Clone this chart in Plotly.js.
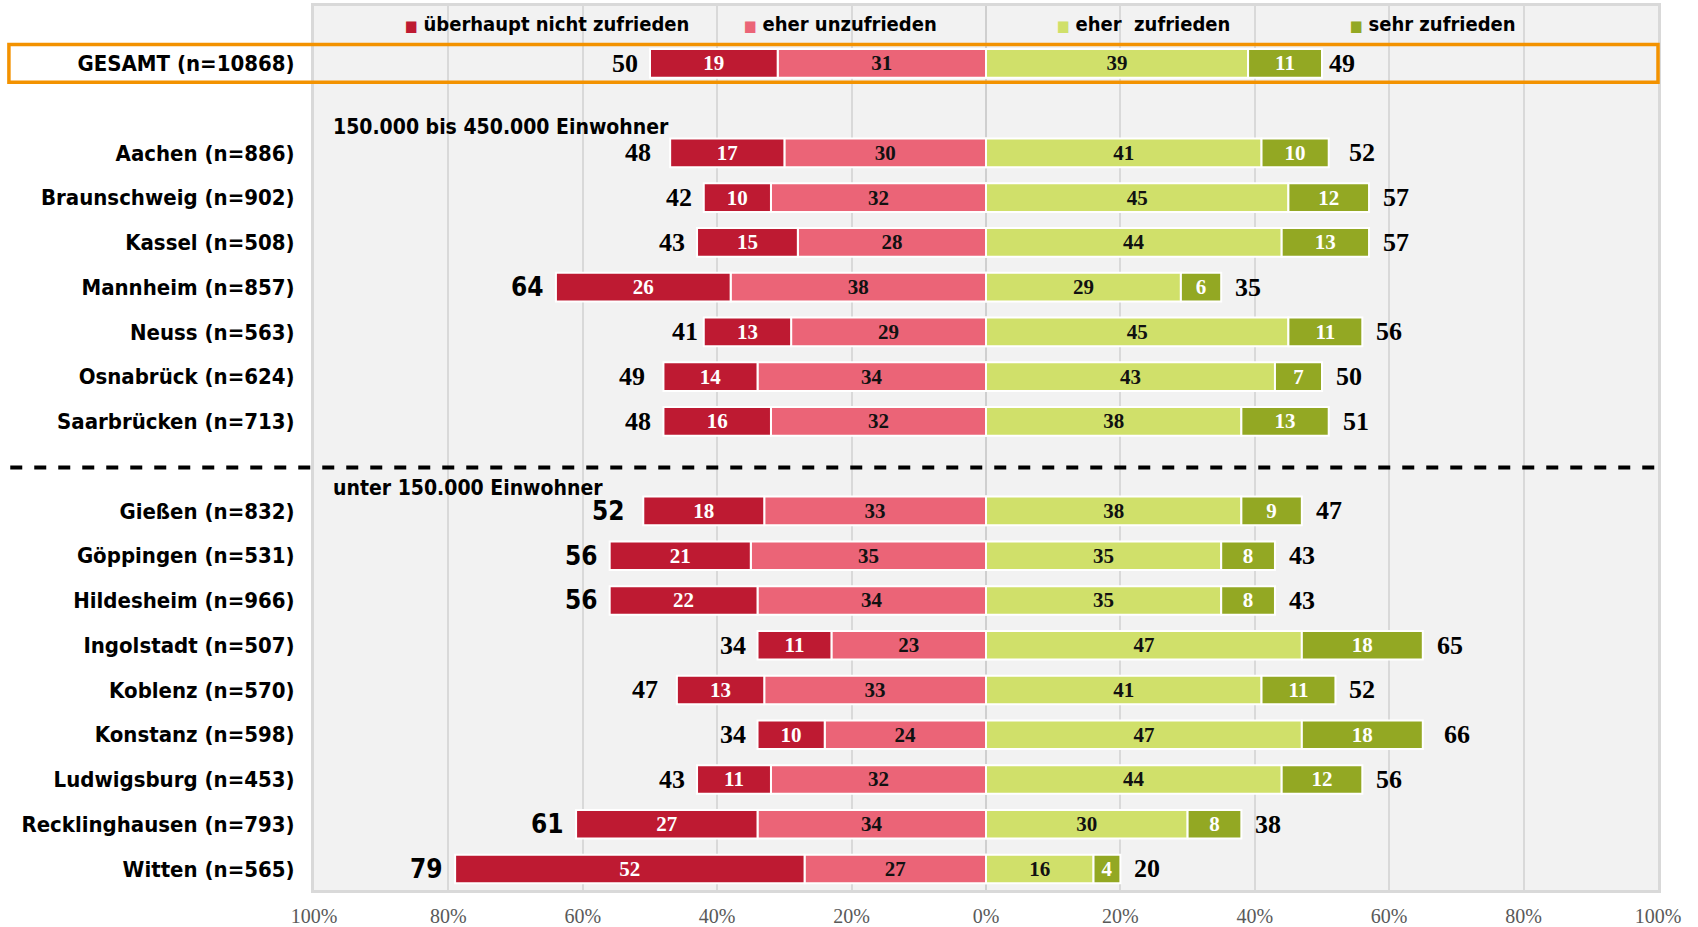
<!DOCTYPE html>
<html>
<head>
<meta charset="utf-8">
<script src="https://cdn.plot.ly/plotly-3.0.1.min.js"></script>
<style>html,body{margin:0;padding:0;background:#fff;}#chart{width:1698px;height:927px;}</style>
</head>
<body>
<div id="chart"></div>
<script>
// ---- data ----
const categories = ["GESAMT (n=10868)", "",
  "Aachen (n=886)", "Braunschweig (n=902)", "Kassel (n=508)", "Mannheim (n=857)",
  "Neuss (n=563)", "Osnabrück (n=624)", "Saarbrücken (n=713)", "",
  "Gießen (n=832)", "Göppingen (n=531)", "Hildesheim (n=966)", "Ingolstadt (n=507)",
  "Koblenz (n=570)", "Konstanz (n=598)", "Ludwigsburg (n=453)",
  "Recklinghausen (n=793)", "Witten (n=565)"];
const ueberhauptNicht = [19, null, 17, 10, 15, 26, 13, 14, 16, null, 18, 21, 22, 11, 13, 10, 11, 27, 52];
const eherUnzufrieden = [31, null, 30, 32, 28, 38, 29, 34, 32, null, 33, 35, 34, 23, 33, 24, 32, 34, 27];
const eherZufrieden   = [39, null, 41, 45, 44, 29, 45, 43, 38, null, 38, 35, 35, 47, 41, 47, 44, 30, 16];
const sehrZufrieden   = [11, null, 10, 12, 13, 6, 11, 7, 13, null, 9, 8, 8, 18, 11, 18, 12, 8, 4];
const totalNegativ    = [50, null, 48, 42, 43, 64, 41, 49, 48, null, 52, 56, 56, 34, 47, 34, 43, 61, 79];
const totalPositiv    = [49, null, 52, 57, 57, 35, 56, 50, 51, null, 47, 43, 43, 65, 52, 66, 56, 38, 20];
const seriesNames = ["überhaupt nicht zufrieden", "eher unzufrieden", "eher  zufrieden", "sehr zufrieden"];
const groupLabels = ["150.000 bis 450.000 Einwohner", "unter 150.000 Einwohner"];
const xTickVals = [-100, -80, -60, -40, -20, 0, 20, 40, 60, 80, 100];
const xTickText = ["100%", "80%", "60%", "40%", "20%", "0%", "20%", "40%", "60%", "80%", "100%"];

// ---- styles ----
const C_DARKRED = "#be1a32", C_PINK = "#eb6477", C_LIGHTGREEN = "#d0e06a", C_OLIVE = "#93a823";
const SANS = "'Liberation Sans Narrow', 'DejaVu Sans Condensed', 'Arial Narrow', sans-serif";
const SERIF = "'Liberation Serif', 'DejaVu Serif', serif";

const ypos = categories.map((c, i) => i);
const idx = ypos.filter(i => categories[i] !== "");
const pick = arr => idx.map(i => arr[i]);
const yv = idx;

function barTrace(name, vals, sign, color, txtColor) {
  return {
    type: "bar", orientation: "h", name: name,
    y: yv, x: pick(vals).map(v => sign * v),
    text: pick(vals).map(v => "<b>" + v + "</b>"),
    textposition: "inside", insidetextanchor: "middle", textangle: 0,
    constraintext: "none",
    textfont: {family: SERIF, size: 21, color: txtColor},
    marker: {color: color, line: {color: "#ffffff", width: 2}},
    hoverinfo: "name+text", showlegend: false
  };
}

const traces = [
  barTrace(seriesNames[1], eherUnzufrieden, -1, C_PINK, "#111111"),
  barTrace(seriesNames[0], ueberhauptNicht, -1, C_DARKRED, "#ffffff"),
  barTrace(seriesNames[2], eherZufrieden, 1, C_LIGHTGREEN, "#111111"),
  barTrace(seriesNames[3], sehrZufrieden, 1, C_OLIVE, "#ffffff")
];

const annotations = [];
idx.forEach(i => {
  const neg = totalNegativ[i], pos = totalPositiv[i];
  const majorityNeg = neg - pos > 1;
  annotations.push({
    x: -neg, y: i, xref: "x", yref: "y", text: "<b>" + neg + "</b>", showarrow: false,
    xanchor: "right", yanchor: "middle", xshift: -10,
    font: majorityNeg ? {family: SANS, size: 26, color: "#000"}
                      : {family: SERIF, size: 26, color: "#000"}
  });
  annotations.push({
    x: pos, y: i, xref: "x", yref: "y", text: "<b>" + pos + "</b>", showarrow: false,
    xanchor: "left", yanchor: "middle", xshift: 12,
    font: {family: SERIF, size: 26, color: "#000"}
  });
});
// group headers
annotations.push({x: -97.5, y: 1.41, xref: "x", yref: "y", text: "<b>" + groupLabels[0] + "</b>", showarrow: false,
  xanchor: "left", yanchor: "middle", font: {family: SANS, size: 21, color: "#000"}});
annotations.push({x: -97.5, y: 9.49, xref: "x", yref: "y", text: "<b>" + groupLabels[1] + "</b>", showarrow: false,
  xanchor: "left", yanchor: "middle", font: {family: SANS, size: 21, color: "#000"}});
// legend as annotations
const legendX = [-86.8, -36.3, 10.2, 53.8];
const legendColors = [C_DARKRED, C_PINK, C_LIGHTGREEN, C_OLIVE];
seriesNames.forEach((n, k) => {
  annotations.push({x: legendX[k], y: -0.89, xref: "x", yref: "y",
    text: '<span style="color:' + legendColors[k] + ';font-size:15px">■</span> <b>' + n + '</b>',
    showarrow: false, xanchor: "left", yanchor: "middle",
    font: {family: SANS, size: 20, color: "#000"}});
});

const layout = {
  width: 1698, height: 927,
  margin: {l: 314, r: 40, t: 6, b: 37},
  paper_bgcolor: "#ffffff", plot_bgcolor: "#f2f2f2",
  barmode: "relative", bargap: 0.36,
  showlegend: false,
  xaxis: {
    range: [-100, 100], tickvals: xTickVals, ticktext: xTickText,
    showgrid: true, gridcolor: "#d9d9d9", gridwidth: 2,
    zeroline: true, zerolinecolor: "#cfcfcf", zerolinewidth: 2,
    showline: true, mirror: true, linecolor: "#d9d9d9", linewidth: 3,
    ticks: "outside", ticklen: 6, tickcolor: "rgba(0,0,0,0)",
    tickfont: {family: SERIF, size: 20, color: "#595959"},
    fixedrange: true
  },
  yaxis: {
    range: [18.47, -1.283], tickvals: idx, ticktext: pick(categories).map(t => "<b>" + t + "</b>"),
    showgrid: false, zeroline: false,
    showline: true, mirror: true, linecolor: "#d9d9d9", linewidth: 3,
    ticks: "outside", ticklen: 12, tickcolor: "rgba(0,0,0,0)",
    tickfont: {family: SANS, size: 22, color: "#000"},
    fixedrange: true
  },
  shapes: [
    {type: "rect", xref: "paper", yref: "y", x0: -0.227, x1: 1.0, y0: -0.42, y1: 0.42,
     line: {color: "#f39200", width: 3.5}, fillcolor: "rgba(0,0,0,0)"},
    {type: "line", xref: "paper", yref: "y", x0: -0.226, x1: 1.0, y0: 9.03, y1: 9.03,
     line: {color: "#000", width: 4, dash: "dash"}}
  ],
  annotations: annotations
};

Plotly.newPlot("chart", traces, layout, {displayModeBar: false, staticPlot: true});
</script>
</body>
</html>
